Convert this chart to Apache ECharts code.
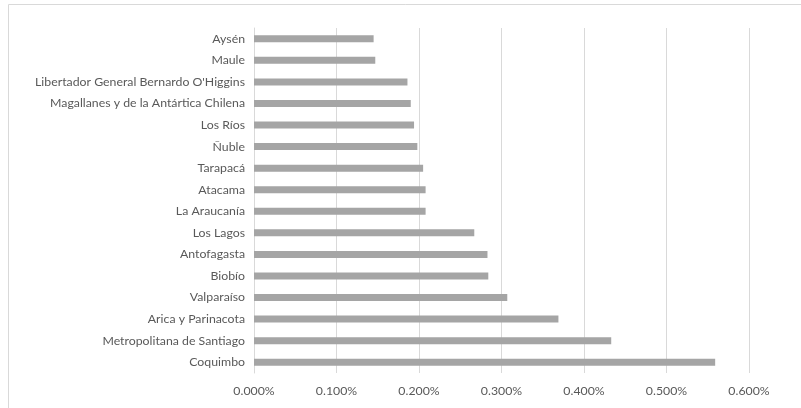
<!DOCTYPE html>
<html>
<head>
<meta charset="utf-8">
<script src="https://cdn.jsdelivr.net/npm/echarts@6/dist/echarts.min.js"></script>
<style>
html,body{margin:0;padding:0;background:#fff;}
#chart{width:801px;height:408px;}
</style>
</head>
<body>
<div id="chart"></div>
<script>
// categories from bottom to top (as drawn)
const regions = [
  "Coquimbo",
  "Metropolitana de Santiago",
  "Arica y Parinacota",
  "Valparaíso",
  "Biobío",
  "Antofagasta",
  "Los Lagos",
  "La Araucanía",
  "Atacama",
  "Tarapacá",
  "Ñuble",
  "Los Ríos",
  "Magallanes y de la Antártica Chilena",
  "Libertador General Bernardo O'Higgins",
  "Maule",
  "Aysén"
];
// values in percent
const values = [0.559, 0.433, 0.369, 0.307, 0.284, 0.283, 0.267, 0.208, 0.208, 0.205, 0.198, 0.194, 0.190, 0.186, 0.147, 0.145];
const xTicks = [0, 0.1, 0.2, 0.3, 0.4, 0.5, 0.6];

const chart = echarts.init(document.getElementById('chart'));
const font = 'Lato, "Open Sans", sans-serif';
chart.setOption({
  animation: false,
  graphic: [{
    type: 'rect',
    shape: { x: 8.5, y: 4.5, width: 820, height: 420 },
    style: { fill: 'none', stroke: '#d9d9d9', lineWidth: 1 },
    silent: true
  }],
  grid: { left: 254, right: 52, top: 28, bottom: 35, containLabel: false },
  xAxis: {
    type: 'value',
    min: xTicks[0],
    max: xTicks[xTicks.length - 1],
    interval: 0.1,
    axisLine: { show: false },
    axisTick: { show: false },
    splitLine: { show: true, lineStyle: { color: '#d9d9d9', width: 1 } },
    axisLabel: {
      color: '#595959', fontSize: 12.3, fontFamily: font, margin: 12,
      formatter: v => v.toFixed(3) + '%'
    }
  },
  yAxis: {
    type: 'category',
    data: regions,
    axisLine: { show: true, lineStyle: { color: '#d9d9d9' } },
    axisTick: { show: false },
    axisLabel: { color: '#595959', fontSize: 12.3, fontFamily: font, margin: 9 }
  },
  series: [{
    type: 'bar',
    data: values,
    barWidth: 7,
    itemStyle: { color: '#a5a5a5' }
  }]
});
</script>
</body>
</html>
